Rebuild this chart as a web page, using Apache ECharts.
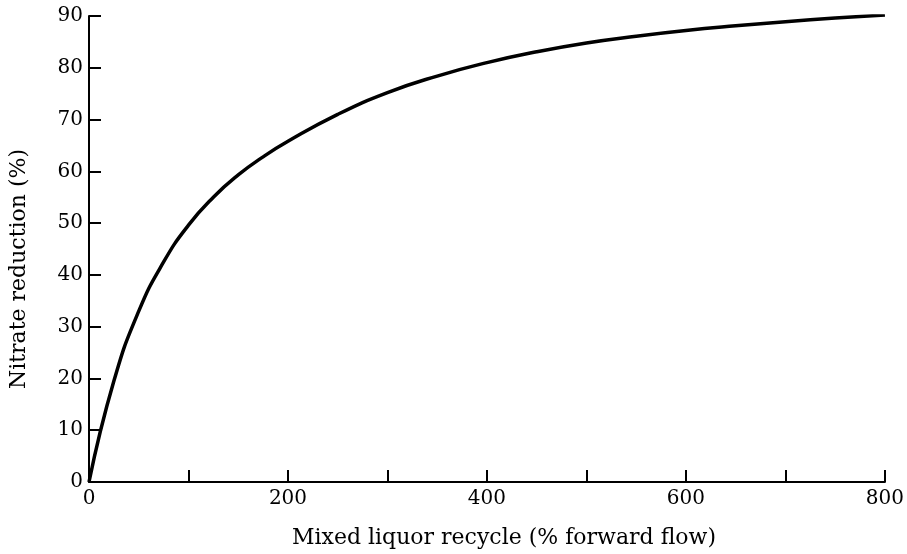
<!DOCTYPE html>
<html>
<head>
<meta charset="utf-8">
<script src="https://cdn.jsdelivr.net/npm/echarts@6/dist/echarts.min.js"></script>
<style>html,body{margin:0;padding:0;background:#fff;}#c{width:907px;height:554px;}</style>
</head>
<body>
<div id="c"></div>
<script>
var recycle = [0, 25, 50, 75, 100, 125, 150, 175, 200, 250, 300, 350, 400, 450, 500, 550, 600, 650, 700, 750, 800];
var reduction = [0, 19.5, 33, 42.5, 49.6, 55, 59.3, 62.8, 65.8, 71.0, 75.2, 78.4, 81.0, 83.1, 84.8, 86.1, 87.2, 88.1, 88.9, 89.6, 90.2];
var xLabels = [0, 200, 400, 600, 800];
var xTitle = 'Mixed liquor recycle (% forward flow)';
var yTitle = 'Nitrate reduction (%)';

var pts = recycle.map(function (x, i) { return [x, reduction[i]]; });
var font = 'DejaVu Serif';
var chart = echarts.init(document.getElementById('c'), null, {renderer: 'canvas'});
chart.setOption({
  animation: false,
  backgroundColor: '#fff',
  grid: {left: 88, right: 21, top: 16, bottom: 72, containLabel: false},
  xAxis: {
    type: 'value', min: 0, max: 800, interval: 100,
    name: xTitle, nameLocation: 'middle', nameGap: 45,
    nameTextStyle: {fontFamily: font, fontSize: 22, color: '#000', padding: [0, 0, 0, 34]},
    axisLine: {show: true, lineStyle: {color: '#000', width: 2}},
    axisTick: {show: true, inside: true, length: 12, lineStyle: {color: '#000', width: 2}},
    axisLabel: {fontFamily: font, fontSize: 20, color: '#000', margin: 7,
      formatter: function (v) { return xLabels.indexOf(v) >= 0 ? String(v) : ''; }},
    splitLine: {show: false}
  },
  yAxis: {
    type: 'value', min: 0, max: 90, interval: 10,
    name: yTitle, nameLocation: 'middle', nameGap: 59, nameRotate: 90,
    nameTextStyle: {fontFamily: font, fontSize: 22, color: '#000', padding: [0, 40, 0, 0]},
    axisLine: {show: true, lineStyle: {color: '#000', width: 2}},
    axisTick: {show: true, inside: true, length: 12, lineStyle: {color: '#000', width: 2}},
    axisLabel: {fontFamily: font, fontSize: 20, color: '#000', margin: 6},
    splitLine: {show: false}
  },
  series: [{
    type: 'line', data: pts, smooth: 0.5, symbol: 'none',
    lineStyle: {color: '#000', width: 3.5}
  }]
});
</script>
</body>
</html>
